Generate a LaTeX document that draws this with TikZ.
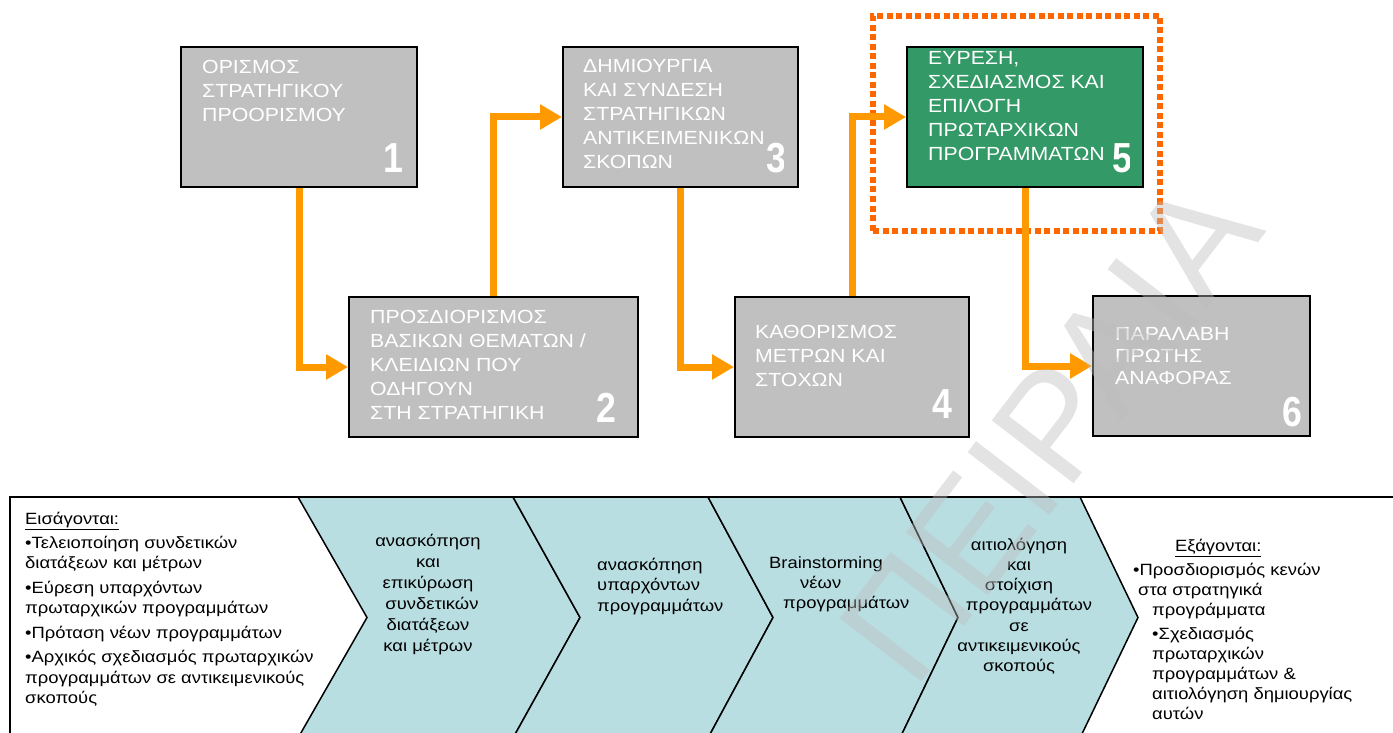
\documentclass[tikz,border=0pt]{standalone}
\usepackage{fontspec}
\setmainfont{Liberation Sans}
\newfontfamily\boxfont{Liberation Sans}[FakeStretch=1.12]
\newfontfamily\lowfont{Liberation Sans}[FakeStretch=1.13]
\newfontfamily\numfont{Liberation Sans}[FakeStretch=0.85]
\usetikzlibrary{arrows.meta}

\definecolor{boxgrey}{RGB}{192,192,192}
\definecolor{stepgreen}{RGB}{51,153,102}
\definecolor{flowor}{RGB}{255,153,0}
\definecolor{dotor}{RGB}{255,102,0}
\definecolor{chevfill}{RGB}{185,222,226}
\definecolor{wmgrey}{RGB}{189,189,189}

\tikzset{
  stepbox/.style={draw=black, line width=2pt, fill=boxgrey, inner sep=0pt,
    minimum height=140pt},
  boxtxt/.style={anchor=north west, inner sep=0pt, text=white, align=left,
    font=\boxfont\fontsize{19}{24}\selectfont, execute at begin node=\strut},
  num/.style={anchor=base east, inner sep=0pt, text=white,
    font=\numfont\bfseries\fontsize{42}{42}\selectfont},
  flow/.style={draw=flowor, line width=7pt, line join=miter,
    -{Triangle[length=22pt,width=24pt]}},
  focus/.style={draw=dotor, line width=5.5pt, dash pattern=on 6pt off 3.5pt,
    inner sep=0pt},
  panel/.style={draw=black, line width=1.5pt},
  chev/.style={draw=black, line width=1.5pt, fill=chevfill, line join=miter},
  lowtxt/.style={inner sep=0pt, text=black,
    font=\lowfont\fontsize{16.3}{#1}\selectfont, execute at begin node=\strut},
  lowtxt/.default=20.5,
  wmark/.style={inner sep=0pt, rotate=52.5, text=wmgrey, text opacity=0.42,
    font=\fontsize{150}{150}\selectfont}
}

\begin{document}
\begin{tikzpicture}[x=1pt,y=-1pt]
\useasboundingbox (0,0) rectangle (1393,733);
\clip (0,0) rectangle (1393,733);

% ---- lower panel: inputs, four chevron steps, outputs ----
\draw[panel] (10,740) -- (10,497) -- (1393,497);
\filldraw[chev] (298,497) -- (513,497) -- (580,617.5) -- (513,738) -- (298,738) -- (367,617.5) -- cycle;
\filldraw[chev] (513,497) -- (708,497) -- (773,617.5) -- (708,738) -- (513,738) -- (580,617.5) -- cycle;
\filldraw[chev] (708,497) -- (900,497) -- (958,617.5) -- (900,738) -- (708,738) -- (773,617.5) -- cycle;
\filldraw[chev] (900,497) -- (1080,497) -- (1138,617.5) -- (1080,738) -- (900,738) -- (958,617.5) -- cycle;

\node[lowtxt, anchor=north west, align=left] (inputs) at (25,511.6)
  {\underline{Εισάγονται:}\\[3.5pt]
   •Τελειοποίηση συνδετικών\\
   διατάξεων και μέτρων\\[4pt]
   •Εύρεση υπαρχόντων\\
   πρωταρχικών προγραμμάτων\\[4pt]
   •Πρόταση νέων προγραμμάτων\\[4pt]
   •Αρχικός σχεδιασμός πρωταρχικών\\
   προγραμμάτων σε αντικειμενικούς\\
   σκοπούς};

\node[lowtxt=21, anchor=north, align=center] (c1) at (428,534.3)
  {ανασκόπηση\\και\\επικύρωση\\\hspace*{8pt}συνδετικών\\διατάξεων\\και μέτρων};
\node[lowtxt, anchor=north west, align=left] (c2) at (597,557.6)
  {ανασκόπηση\\υπαρχόντων\\προγραμμάτων};
\node[lowtxt=20, anchor=north west, align=left] (c3) at (769,556)
  {Brainstorming\\\hspace*{31pt}νέων\\\hspace*{14pt}προγραμμάτων};
\node[lowtxt=20.2, anchor=north, align=center] (c4) at (1019,537.9)
  {αιτιολόγηση\\και\\στοίχιση\\\hspace*{20pt}προγραμμάτων\\σε\\αντικειμενικούς\\σκοπούς};

\node[lowtxt=20, anchor=north west, align=left] (outputs) at (1133,539)
  {\hspace*{42pt}\underline{Εξάγονται:}\\[4pt]
   •Προσδιορισμός κενών\\
   \hspace*{5pt}στα στρατηγικά\\
   \hspace*{19pt}προγράμματα\\[4pt]
   \hspace*{19pt}•Σχεδιασμός\\
   \hspace*{19pt}πρωταρχικών\\
   \hspace*{19pt}προγραμμάτων \&\\
   \hspace*{19pt}αιτιολόγηση δημιουργίας\\
   \hspace*{19pt}αυτών};

% ---- upper panel: the six steps ----
\node[stepbox, minimum width=236pt] (b1) at (299,117) {};
\node[stepbox, minimum width=289pt] (b2) at (493.5,367) {};
\node[stepbox, minimum width=235pt] (b3) at (680.5,117) {};
\node[stepbox, minimum width=234pt] (b4) at (852,367) {};
\node[stepbox, minimum width=236pt, fill=stepgreen] (b5) at (1025,117) {};
\node[stepbox, minimum width=217pt] (b6) at (1201.5,366) {};

\node[focus, minimum width=287pt, minimum height=215pt] (sel) at (1016.5,123.5) {};

\draw[flow] (b1.south) |- (b2.west);
\draw[flow] (b2.north) |- (b3.west);
\draw[flow] (b3.south) |- (b4.west);
\draw[flow] (b4.north) |- (b5.west);
\draw[flow] (b5.south) |- (b6.west);

\node[boxtxt] (t1) at (202,60.2) {ΟΡΙΣΜΟΣ\\ΣΤΡΑΤΗΓΙΚΟΥ\\ΠΡΟΟΡΙΣΜΟΥ};
\node[boxtxt] (t2) at (370,310) {ΠΡΟΣΔΙΟΡΙΣΜΟΣ\\ΒΑΣΙΚΩΝ ΘΕΜΑΤΩΝ /\\ΚΛΕΙΔΙΩΝ ΠΟΥ\\ΟΔΗΓΟΥΝ\\ΣΤΗ ΣΤΡΑΤΗΓΙΚΗ};
\node[boxtxt] (t3) at (583,59.5) {ΔΗΜΙΟΥΡΓΙΑ\\ΚΑΙ ΣΥΝΔΕΣΗ\\ΣΤΡΑΤΗΓΙΚΩΝ\\ΑΝΤΙΚΕΙΜΕΝΙΚΩΝ\\ΣΚΟΠΩΝ};
\node[boxtxt] (t4) at (755,325) {ΚΑΘΟΡΙΣΜΟΣ\\ΜΕΤΡΩΝ ΚΑΙ\\ΣΤΟΧΩΝ};
\node[boxtxt] (t5) at (928,51.5) {ΕΥΡΕΣΗ,\\ΣΧΕΔΙΑΣΜΟΣ ΚΑΙ\\ΕΠΙΛΟΓΗ\\ΠΡΩΤΑΡΧΙΚΩΝ\\ΠΡΟΓΡΑΜΜΑΤΩΝ};
\node[boxtxt, font=\boxfont\fontsize{19}{22}\selectfont] (t6) at (1115,327.6) {ΠΑΡΑΛΑΒΗ\\ΠΡΩΤΗΣ\\ΑΝΑΦΟΡΑΣ};

\node[num] (n1) at (404,173) {1};
\node[num] (n2) at (617,422) {2};
\begin{scope}
  \clip (563,47) rectangle (783,187);
  \node[num] (n3) at (787,173) {3};
\end{scope}
\node[num] (n4) at (953,418) {4};
\begin{scope}
  \clip (907,47) rectangle (1129,187);
  \node[num] (n5) at (1133,173) {5};
\end{scope}
\node[num] (n6) at (1303,426) {6};

% ---- watermark across the picture ----
\node[wmark] (wm) at (1050,430) {ΠΕΙΡΑΙΑ};
\end{tikzpicture}
\end{document}
